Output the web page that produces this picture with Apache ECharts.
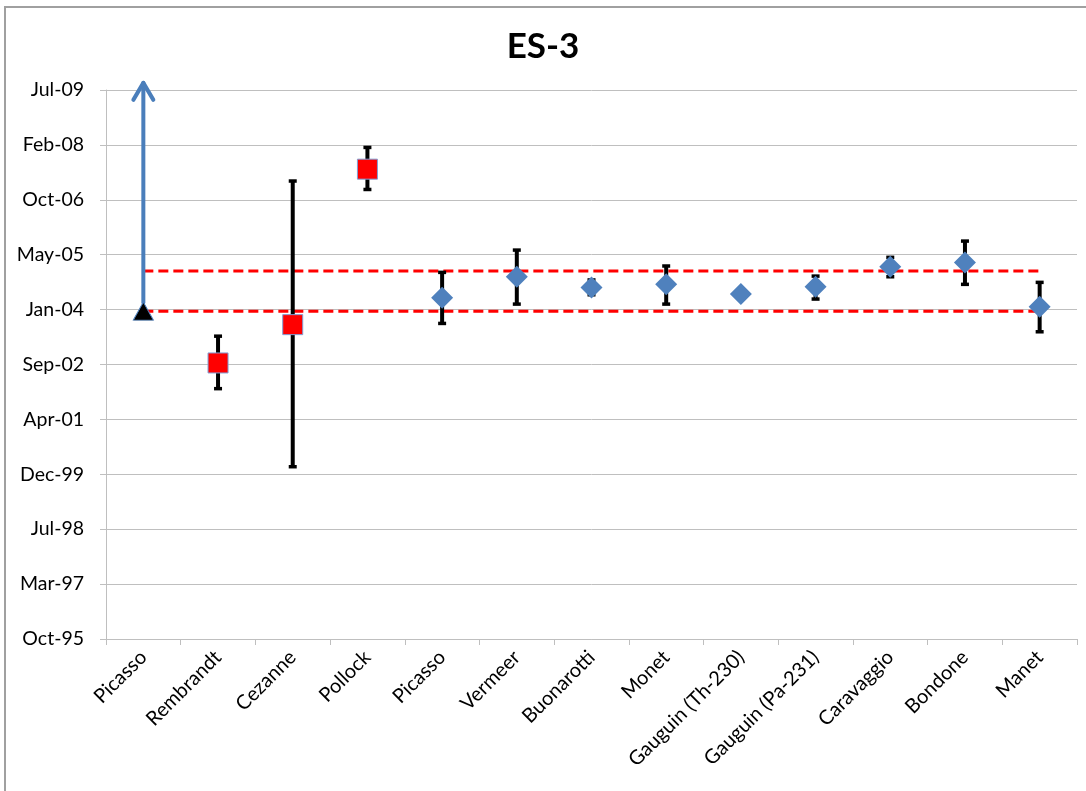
<!DOCTYPE html>
<html>
<head>
<meta charset="utf-8">
<script src="https://cdn.jsdelivr.net/npm/echarts@6/dist/echarts.min.js"></script>
<style>
  html, body { margin: 0; padding: 0; background: #fff; }
  #chart { width: 1086px; height: 791px; }
</style>
</head>
<body>
<div id="chart"></div>
<script>
// Categories (x axis)
const categories = ['Picasso', 'Rembrandt', 'Cezanne', 'Pollock', 'Picasso', 'Vermeer', 'Buonarotti',
  'Monet', 'Gauguin (Th-230)', 'Gauguin (Pa-231)', 'Caravaggio', 'Bondone', 'Manet'];

// Y values are date serial numbers (days, Excel style)
const yMin = 35000, yMax = 40000, yStep = 500;
const yTickLabels = ['Oct-95', 'Mar-97', 'Jul-98', 'Dec-99', 'Apr-01', 'Sep-02', 'Jan-04',
  'May-05', 'Oct-06', 'Feb-08', 'Jul-09'];

// Lower-limit marker (black triangle) with upward arrow
const triangleValues = [37986, null, null, null, null, null, null, null, null, null, null, null, null];
const arrowFrom = [38065, null, null, null, null, null, null, null, null, null, null, null, null];
const arrowTo   = [40065, null, null, null, null, null, null, null, null, null, null, null, null];

// Red squares
const squareValues = [null, 37514, 37863, 39279, null, null, null, null, null, null, null, null, null];

// Blue diamonds
const diamondValues = [null, null, null, null, 38108, 38299, 38202, 38230, 38141, 38208, 38390, 38430, 38026];

// Error bars (low / high)
const errLow  = [null, 37280, 36569, 39094, 37874, 38050, 38135, 38050, null, 38096, 38299, 38230, 37798];
const errHigh = [null, 37758, 39171, 39477, 38339, 38542, 38270, 38397, null, 38305, 38476, 38624, 38248];

// Dashed reference band
const upperLimit = 38351;
const lowerLimit = 37986;

const toPairs = arr => arr.map((v, i) => v == null ? null : [i, v]).filter(d => d);
const errData = errLow.map((lo, i) => lo == null ? null : [i, lo, errHigh[i]]).filter(d => d);
const arrowData = arrowFrom.map((a, i) => a == null ? null : [i, a, arrowTo[i]]).filter(d => d);

const chart = echarts.init(document.getElementById('chart'), null, { renderer: 'canvas' });
const fontFamily = 'Lato, "Noto Sans", sans-serif';

const option = {
  backgroundColor: '#fff',
  animation: false,
  title: {
    text: 'ES-3',
    left: 'center',
    top: 24,
    textStyle: { fontFamily, fontWeight: 'bold', fontSize: 35, color: '#000' }
  },
  graphic: [
    { type: 'polyline', shape: { points: [[5, 791], [5, 7], [1086, 7]] },
      style: { stroke: '#a0a0a0', lineWidth: 2, fill: null }, silent: true }
  ],
  grid: { left: 106, right: 9, top: 90, bottom: 152, containLabel: false },
  xAxis: {
    type: 'category',
    data: categories,
    boundaryGap: true,
    axisLine: { show: true, lineStyle: { color: '#bfbfbf', width: 1 } },
    axisTick: { show: true, length: 6, lineStyle: { color: '#bfbfbf' } },
    axisLabel: {
      interval: 0, rotate: 45, margin: 15,
      fontFamily, fontSize: 20, color: '#000'
    },
    splitLine: { show: false }
  },
  yAxis: {
    type: 'value',
    min: yMin, max: yMax, interval: yStep,
    axisLine: { show: true, lineStyle: { color: '#bfbfbf', width: 1 } },
    axisTick: { show: true, length: 6, lineStyle: { color: '#bfbfbf' } },
    axisLabel: {
      margin: 22, fontFamily, fontSize: 19.5, color: '#000',
      formatter: v => yTickLabels[Math.round((v - yMin) / yStep)]
    },
    splitLine: { show: true, lineStyle: { color: '#bfbfbf', width: 1 } }
  },
  series: [
    {
      name: 'upper', type: 'line', z: 2, symbol: 'none', silent: true,
      data: [[0, upperLimit], [categories.length - 1, upperLimit]],
      lineStyle: { color: '#ff0000', width: 3, type: [10, 5] }
    },
    {
      name: 'lower', type: 'line', z: 2, symbol: 'none', silent: true,
      data: [[0, lowerLimit], [categories.length - 1, lowerLimit]],
      lineStyle: { color: '#ff0000', width: 3, type: [10, 5] }
    },
    {
      name: 'arrow', type: 'custom', z: 3, silent: true,
      data: arrowData,
      renderItem: (params, api) => {
        const x = api.value(0);
        const p0 = api.coord([x, api.value(1)]);
        const p1 = api.coord([x, api.value(2)]);
        const st = { stroke: '#4a7ebb', lineWidth: 4, lineCap: 'round', lineJoin: 'round', fill: null };
        return { type: 'group', children: [
          { type: 'line', shape: { x1: p0[0], y1: p0[1], x2: p1[0], y2: p1[1] }, style: st },
          { type: 'polyline', shape: { points: [[p1[0] - 10, p1[1] + 17], [p1[0], p1[1]], [p1[0] + 10, p1[1] + 17]] }, style: st }
        ]};
      }
    },
    {
      name: 'errors', type: 'custom', z: 4, silent: true,
      data: errData,
      renderItem: (params, api) => {
        const x = api.value(0);
        const pl = api.coord([x, api.value(1)]);
        const ph = api.coord([x, api.value(2)]);
        const cw = 8;
        const blk = { stroke: '#000', lineWidth: 4 };
        const cap = { stroke: '#000', lineWidth: 3.5 };
        return { type: 'group', children: [
          { type: 'line', shape: { x1: ph[0], y1: ph[1], x2: pl[0], y2: pl[1] }, style: blk },
          { type: 'line', shape: { x1: ph[0] - cw / 2, y1: ph[1], x2: ph[0] + cw / 2, y2: ph[1] }, style: cap },
          { type: 'line', shape: { x1: pl[0] - cw / 2, y1: pl[1], x2: pl[0] + cw / 2, y2: pl[1] }, style: cap }
        ]};
      }
    },
    {
      name: 'squares', type: 'scatter', z: 5,
      data: toPairs(squareValues),
      symbol: 'rect', symbolSize: 20,
      itemStyle: { color: '#ff0000', borderColor: '#7f9fd5', borderWidth: 1, opacity: 1 }
    },
    {
      name: 'diamonds', type: 'scatter', z: 5,
      data: toPairs(diamondValues),
      symbol: 'diamond', symbolSize: 22,
      itemStyle: { color: '#4f81bd', opacity: 1 }
    },
    {
      name: 'triangle', type: 'scatter', z: 5,
      data: toPairs(triangleValues),
      symbol: 'triangle', symbolSize: [20, 18],
      itemStyle: { color: '#000', borderColor: '#4a7ebb', borderWidth: 1, opacity: 1 }
    }
  ]
};
chart.setOption(option);
</script>
</body>
</html>
